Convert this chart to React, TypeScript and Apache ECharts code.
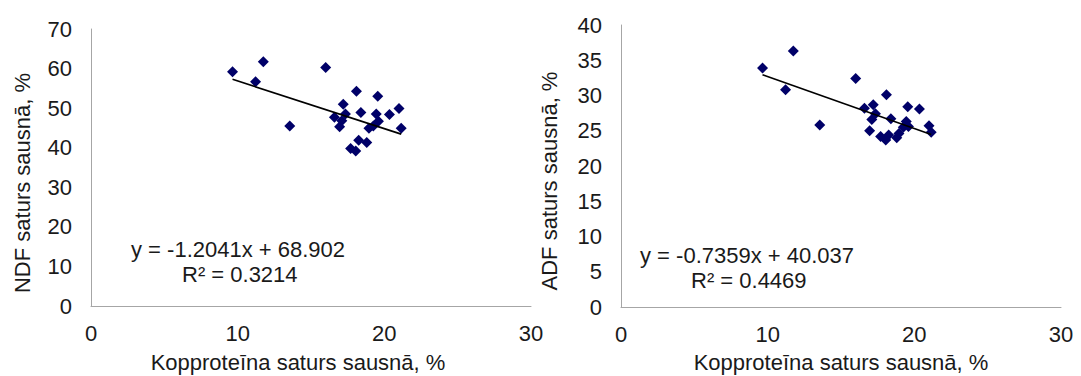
import React, { useEffect, useRef } from "react";
import * as echarts from "echarts";

// Kopproteīna saturs sausnā, % (shared x values)
const protein = [9.65, 11.75, 11.22, 13.55, 16.0, 18.1, 19.55, 20.35, 17.2, 16.6, 18.4, 21.0, 21.15, 16.95, 17.35, 17.1, 19.45, 19.6, 18.95, 19.25, 18.25, 18.8, 17.7, 18.05];
// NDF saturs sausnā, %
const ndf = [59.2, 61.7, 56.7, 45.5, 60.3, 54.3, 53.0, 48.4, 51.0, 47.7, 48.9, 49.9, 44.9, 45.3, 48.5, 46.8, 48.5, 46.7, 44.9, 45.5, 41.9, 41.3, 39.8, 39.2];
// ADF saturs sausnā, %
const adf = [33.9, 36.3, 30.8, 25.8, 32.4, 30.1, 28.4, 28.1, 28.7, 28.2, 26.7, 25.7, 24.8, 25.0, 27.4, 26.6, 26.3, 25.6, 24.6, 25.5, 24.4, 24.0, 24.2, 23.7];

const ndfTrend = { slope: -1.2041, intercept: 68.902, r2: "0.3214" };
const adfTrend = { slope: -0.7359, intercept: 40.037, r2: "0.4469" };

const xTicks = { min: 0, max: 30, interval: 10 };
const ndfTicks = { min: 0, max: 70, interval: 10 };
const adfTicks = { min: 0, max: 40, interval: 5 };

const xTitle = "Kopproteīna saturs sausnā, %";
const ndfTitle = "NDF saturs sausnā, %";
const adfTitle = "ADF saturs sausnā, %";

const FONT = "'Liberation Sans', Arial, sans-serif";
const TEXT = "#1a1a1a";
const MARK = "#000068";
const AXIS = "#a6a6a6";
const FS = 22;

export default function App() {
  const ref = useRef<HTMLDivElement>(null);
  useEffect(() => {
    if (!ref.current) return;
    const chart = echarts.init(ref.current, undefined, { renderer: "svg" });
    const xmin = Math.min(...protein);
    const xmax = Math.max(...protein);
    const pts = (ys: number[]) => protein.map((x, i) => [x, ys[i]]);
    const trend = (t: { slope: number; intercept: number }) => [
      [xmin, t.slope * xmin + t.intercept],
      [xmax, t.slope * xmax + t.intercept],
    ];
    const fmt = (t: { slope: number; intercept: number }) =>
      `y = ${t.slope.toFixed(4)}x + ${t.intercept.toFixed(3)}`;

    const xAxisBase = {
      type: "value" as const,
      ...xTicks,
      axisTick: { show: false },
      splitLine: { show: false },
      axisLine: { show: true, lineStyle: { color: AXIS, width: 1 } },
      axisLabel: { color: TEXT, fontSize: FS, fontFamily: FONT, margin: 16 },
    };
    const yAxisBase = {
      type: "value" as const,
      axisTick: { show: false },
      splitLine: { show: false },
      axisLine: { show: true, lineStyle: { color: AXIS, width: 1 } },
      axisLabel: { color: TEXT, fontSize: FS, fontFamily: FONT, margin: 19 },
    };
    const textStyle = (text: string) => ({
      text,
      fill: TEXT,
      font: `${FS}px ${FONT}`,
      textAlign: "left",
      textVerticalAlign: "middle",
    });
    const ctext = (text: string) => ({
      text,
      fill: TEXT,
      font: `${FS}px ${FONT}`,
      textAlign: "center",
      textVerticalAlign: "middle",
    });
    const scatter = (idx: number, ys: number[]) => ({
      type: "scatter",
      xAxisIndex: idx,
      yAxisIndex: idx,
      data: pts(ys),
      symbol: "diamond",
      symbolSize: 11,
      itemStyle: { color: MARK, opacity: 1 },
    });
    const line = (idx: number, t: { slope: number; intercept: number }) => ({
      type: "line",
      xAxisIndex: idx,
      yAxisIndex: idx,
      data: trend(t),
      symbol: "none",
      lineStyle: { color: "#000", width: 1.6 },
    });

    chart.setOption({
      animation: false,
      grid: [
        { left: 91, top: 29, width: 440, height: 277 },
        { left: 621, top: 25, width: 440, height: 282 },
      ],
      xAxis: [
        { ...xAxisBase, gridIndex: 0 },
        { ...xAxisBase, gridIndex: 1 },
      ],
      yAxis: [
        { ...yAxisBase, gridIndex: 0, ...ndfTicks },
        { ...yAxisBase, gridIndex: 1, ...adfTicks },
      ],
      series: [scatter(0, ndf), line(0, ndfTrend), scatter(1, adf), line(1, adfTrend)],
      graphic: [
        { type: "text", x: 131, y: 249, style: textStyle(fmt(ndfTrend)) },
        { type: "text", x: 182, y: 274, style: textStyle(`R² = ${ndfTrend.r2}`) },
        { type: "text", x: 640, y: 255, style: textStyle(fmt(adfTrend)) },
        { type: "text", x: 691, y: 280, style: textStyle(`R² = ${adfTrend.r2}`) },
        { type: "text", x: 298, y: 362, style: ctext(xTitle) },
        { type: "text", x: 841, y: 362, style: ctext(xTitle) },
        { type: "text", x: 22, y: 183, rotation: Math.PI / 2, style: ctext(ndfTitle) },
        { type: "text", x: 549, y: 181, rotation: Math.PI / 2, style: ctext(adfTitle) },
      ],
    });
    return () => chart.dispose();
  }, []);
  return (
    <div
      ref={ref}
      style={{ position: "fixed", left: 0, top: 0, width: 1081, height: 376, background: "#fff" }}
    />
  );
}
